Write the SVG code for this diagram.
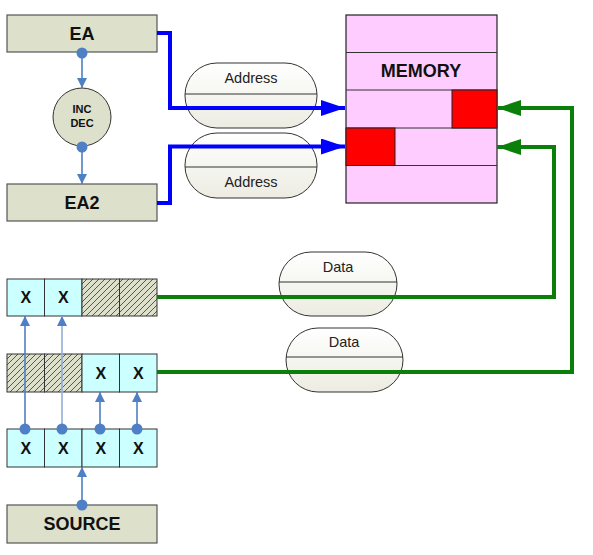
<svg xmlns="http://www.w3.org/2000/svg" width="593" height="555" viewBox="0 0 593 555">
<style>
.box{fill:#dde0cb;stroke:#555;stroke-width:1.2}
.cell{fill:#ccffff;stroke:#333;stroke-width:1}
.hat{fill:url(#hatch);stroke:#333;stroke-width:1}
.mem{fill:#ffccff;stroke:#222;stroke-width:1.2}
.red{fill:#ff0000;stroke:#222;stroke-width:1}
.pill{fill:url(#pg);stroke:#333;stroke-width:1}
.div{stroke:#333;stroke-width:1}
.lbl{font-family:"Liberation Sans",Arial,sans-serif;font-weight:bold;fill:#111;text-anchor:middle}
.plbl{font-family:"Liberation Sans",Arial,sans-serif;font-size:14.5px;fill:#222;text-anchor:middle}
.blue{fill:none;stroke:#0000ff;stroke-width:4}
.green{fill:none;stroke:#0a800a;stroke-width:4}
.sc{stroke:#4f7fc4;stroke-width:1.6;fill:none}
.sc2{stroke:#93aed8;stroke-width:1.6;fill:none}
.dot{fill:#4f7fc4}
</style>
<defs>
<pattern id="hatch" patternUnits="userSpaceOnUse" width="6" height="6">
<rect width="6" height="6" fill="#dde0cb"/>
<path d="M-1,7 L7,-1 M-1,1 L1,-1 M5,7 L7,5" stroke="#333" stroke-width="0.8"/>
</pattern>
<linearGradient id="pg" x1="0" y1="0" x2="0" y2="1">
<stop offset="0" stop-color="#ffffff"/>
<stop offset="1" stop-color="#ecece2"/>
</linearGradient>
<marker id="ab" markerWidth="6" markerHeight="4" refX="6" refY="2" orient="auto" markerUnits="strokeWidth">
<path d="M0,0 L6,2 L0,4 Z" fill="#0000ff"/>
</marker>
<marker id="ag" markerWidth="6" markerHeight="4" refX="6" refY="2" orient="auto" markerUnits="strokeWidth">
<path d="M0,0 L6,2 L0,4 Z" fill="#0a800a"/>
</marker>
<marker id="as" markerWidth="12" markerHeight="12" refX="10" refY="5" orient="auto" markerUnits="userSpaceOnUse">
<path d="M0,0 L10,5 L0,10 Z" fill="#4f7fc4"/>
</marker>
</defs>

<g id="pills">
<g id="address1">
<rect class="pill" x="185" y="63" width="132" height="65" rx="32" ry="32"/>
<line class="div" x1="185" y1="94" x2="317" y2="94"/>
<text class="plbl" x="251" y="83">Address</text>
</g>
<g id="address2">
<rect class="pill" x="185" y="133" width="132" height="65" rx="32" ry="32"/>
<line class="div" x1="185" y1="167" x2="317" y2="167"/>
<text class="plbl" x="251" y="187">Address</text>
</g>
<g id="data1">
<rect class="pill" x="279" y="252" width="118" height="64" rx="32" ry="32"/>
<line class="div" x1="279" y1="282" x2="397" y2="282"/>
<text class="plbl" x="338" y="272">Data</text>
</g>
<g id="data2">
<rect class="pill" x="286" y="328" width="117" height="64" rx="32" ry="32"/>
<line class="div" x1="286" y1="357" x2="403" y2="357"/>
<text class="plbl" x="344" y="347">Data</text>
</g>
</g>

<g id="memory">
<rect class="mem" x="346" y="15" width="151" height="188"/>
<line class="div" x1="346" y1="52.5" x2="497" y2="52.5"/>
<line class="div" x1="346" y1="90" x2="497" y2="90"/>
<line class="div" x1="346" y1="128" x2="497" y2="128"/>
<line class="div" x1="346" y1="165.5" x2="497" y2="165.5"/>
<rect class="red" x="452" y="90" width="45" height="38"/>
<rect class="red" x="346" y="128" width="49" height="37.5"/>
<text class="lbl" x="421" y="77" font-size="18">MEMORY</text>
</g>

<g id="ea">
<rect class="box" x="7" y="15" width="150" height="37"/>
<text class="lbl" x="82" y="40" font-size="18">EA</text>
</g>
<g id="incdec">
<circle cx="82" cy="117" r="29" fill="#dde0cb" stroke="#333" stroke-width="1"/>
<text class="lbl" x="82" y="113" font-size="11">INC</text>
<text class="lbl" x="82" y="127" font-size="11">DEC</text>
</g>
<g id="ea2">
<rect class="box" x="7" y="184" width="150" height="37"/>
<text class="lbl" x="82" y="209" font-size="18">EA2</text>
</g>

<g id="reg1">
<rect class="cell" x="7" y="279" width="37.5" height="37"/>
<rect class="cell" x="44.5" y="279" width="37.5" height="37"/>
<rect class="hat" x="82" y="279" width="37.5" height="37"/>
<rect class="hat" x="119.5" y="279" width="37.5" height="37"/>
<text class="lbl" x="25.75" y="303" font-size="16">X</text>
<text class="lbl" x="63.25" y="303" font-size="16">X</text>
</g>
<g id="reg2">
<rect class="hat" x="7" y="354" width="37.5" height="38"/>
<rect class="hat" x="44.5" y="354" width="37.5" height="38"/>
<rect class="cell" x="82" y="354" width="37.5" height="38"/>
<rect class="cell" x="119.5" y="354" width="37.5" height="38"/>
<text class="lbl" x="100.75" y="379" font-size="16">X</text>
<text class="lbl" x="138.25" y="379" font-size="16">X</text>
</g>
<g id="reg3">
<rect class="cell" x="7" y="429" width="37.5" height="38"/>
<rect class="cell" x="44.5" y="429" width="37.5" height="38"/>
<rect class="cell" x="82" y="429" width="37.5" height="38"/>
<rect class="cell" x="119.5" y="429" width="37.5" height="38"/>
<text class="lbl" x="25.75" y="454" font-size="16">X</text>
<text class="lbl" x="63.25" y="454" font-size="16">X</text>
<text class="lbl" x="100.75" y="454" font-size="16">X</text>
<text class="lbl" x="138.25" y="454" font-size="16">X</text>
</g>
<g id="source">
<rect class="box" x="7" y="505" width="150" height="38"/>
<text class="lbl" x="82" y="530" font-size="18">SOURCE</text>
</g>

<g id="connectors">
<path class="blue" d="M157,33 H170 V108 H345" marker-end="url(#ab)"/>
<path class="blue" d="M157,203 H170 V146.5 H345" marker-end="url(#ab)"/>
<path class="green" d="M157,372 H572 V108 H497" marker-end="url(#ag)"/>
<path class="green" d="M157,297 H554 V147 H497" marker-end="url(#ag)"/>
<path class="sc" d="M82,53 V88" marker-end="url(#as)"/>
<path class="sc" d="M82,147 V184" marker-end="url(#as)"/>
<path class="sc" d="M25,429 V316" marker-end="url(#as)"/>
<path class="sc2" d="M62,429 V316" marker-end="url(#as)"/>
<path class="sc" d="M100,429 V392" marker-end="url(#as)"/>
<path class="sc" d="M137,429 V392" marker-end="url(#as)"/>
<path class="sc" d="M82,505 V467" marker-end="url(#as)"/>
<circle class="dot" cx="82" cy="53" r="5.5"/>
<circle class="dot" cx="82" cy="147" r="5.5"/>
<circle class="dot" cx="25" cy="429" r="5.5"/>
<circle class="dot" cx="62" cy="429" r="5.5"/>
<circle class="dot" cx="100" cy="429" r="5.5"/>
<circle class="dot" cx="137" cy="429" r="5.5"/>
<circle class="dot" cx="82" cy="505" r="5.5"/>
</g>
</svg>
